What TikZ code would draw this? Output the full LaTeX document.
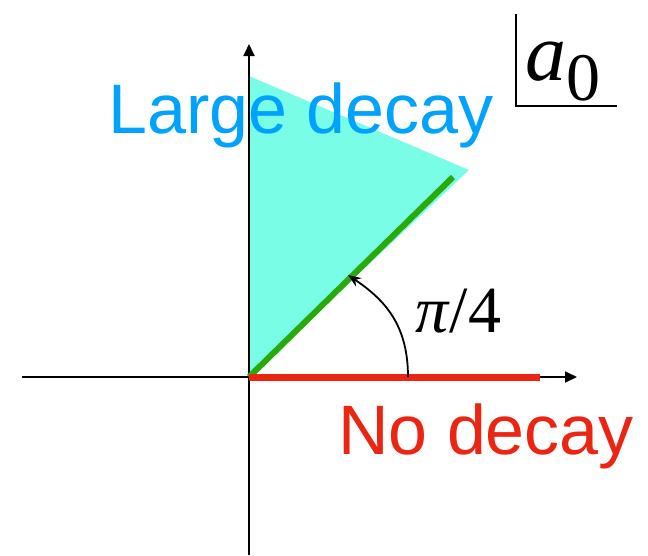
\documentclass[tikz,border=0pt]{standalone}
\usepackage{fontspec}
\newfontfamily\labelfont{Liberation Sans}
\newfontfamily\seriffont{Liberation Serif}
\usetikzlibrary{arrows.meta}
\definecolor{fillcyan}{RGB}{122,253,231}
\definecolor{bluetext}{RGB}{0,162,255}
\definecolor{redline}{RGB}{236,36,18}
\definecolor{greenline}{RGB}{40,170,10}
\tikzset{
  axis/.style={line width=1.8pt,-{Triangle[length=12pt,width=11pt]}},
  bigtext/.style={inner sep=0pt,anchor=base west,font=\labelfont\fontsize{70}{80}\selectfont},
  mathtext/.style={inner sep=0pt,anchor=base west},
}
\begin{document}
\begin{tikzpicture}[x=1pt,y=-1pt]
\useasboundingbox (0,0) rectangle (648,555);
\coordinate (O) at (249,377);
\coordinate (T) at (249,76);
\coordinate (R) at (469,170);
\coordinate (G) at (453,177);
\coordinate (Rend) at (540,377);
\coordinate (Ytop) at (249,44);
\coordinate (Ybot) at (249,555);
\coordinate (Xleft) at (22,377);
\coordinate (Xright) at (577,377);
\coordinate (Astart) at (408,377);
\coordinate (Aend) at (348,275);
\fill[fillcyan] (O) -- (T) -- (R) -- cycle;
\node[bigtext,text=bluetext] (large) at (108,133) {Large decay};
\node[bigtext,text=redline] (no) at (338,454) {No decay};
\draw[axis] (Ybot) -- (Ytop);
\draw[axis] (Xleft) -- (Xright);
\draw[greenline,line width=6pt] (O) -- (G);
\draw[redline,line width=7pt] (O) -- (Rend);
\draw[line width=1.8pt,-{Stealth[length=13pt,width=10pt]}] (Astart) .. controls (408,325) and (385,300) .. (Aend);
\node[mathtext] (pi) at (415,332) {\seriffont\fontsize{66}{70}\selectfont\textit{π}/4};
\node[mathtext] (a) at (525,80) {\seriffont\fontsize{82}{90}\selectfont\textit{a}};
\node[mathtext] (zero) at (566,100) {\seriffont\fontsize{68}{70}\selectfont 0};
\coordinate (boxtop) at (516,14);
\coordinate (boxcorner) at (516,106);
\coordinate (boxright) at (617,106);
\draw[line width=1.8pt] (boxtop) -- (boxcorner) -- (boxright);
\end{tikzpicture}
\end{document}
